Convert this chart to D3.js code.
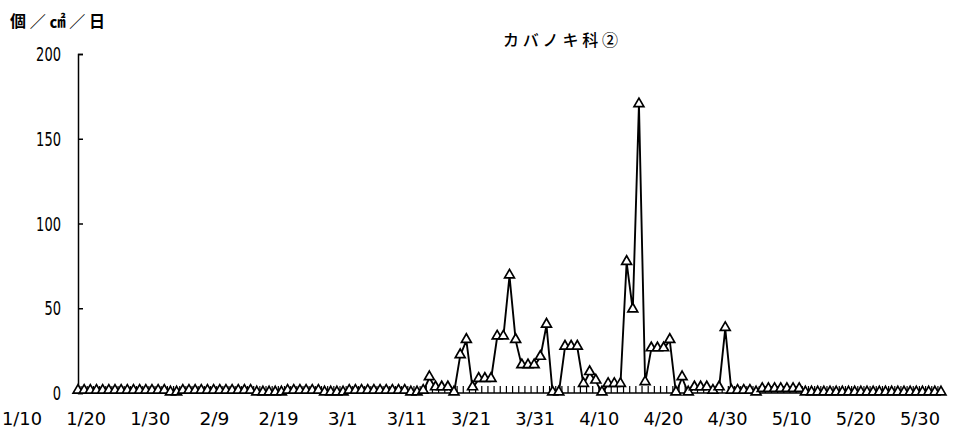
<!DOCTYPE html>
<html>
<head>
<meta charset="utf-8">
<script src="https://cdn.jsdelivr.net/npm/d3@7"></script>
<style>
  body { margin: 0; background: #fff; }
  text { fill: #000; }
</style>
</head>
<body>
<div id="chart"></div>
<script>
// daily pollen counts, 1/10 .. 5/30
const startDay = new Date(2001, 0, 10);
const endDay = new Date(2001, 4, 31);
const days = d3.timeDay.range(startDay, endDay);

const counts = [
  1, 1, 1, 1, 1, 1, 1, 1, 1, 1, 1, 1, 1, 1, 1, 0, 0, 1, 1, 1,
  1, 1, 1, 1, 1, 1, 1, 1, 1, 0, 0, 0, 0, 0, 1, 1, 1, 1, 1, 1,
  0, 0, 0, 0, 1, 1, 1, 1, 1, 1, 1, 1, 1, 1, 0, 0, 1, 9, 3, 3,
  3, 0, 22, 31, 3, 8, 8, 8, 33, 33, 69, 31, 16, 16, 16, 21, 40, 0, 0, 27,
  27, 27, 5, 12, 7, 0, 5, 5, 5, 77, 49, 170, 6, 26, 26, 26, 31, 0, 9, 0,
  3, 3, 3, 1, 3, 38, 1, 1, 1, 1, 0, 2, 2, 2, 2, 2, 2, 2, 0, 0,
  0, 0, 0, 0, 0, 0, 0, 0, 0, 0, 0, 0, 0, 0, 0, 0, 0, 0, 0, 0,
  0
];

const xLabels = ["1/10", "1/20", "1/30", "2/9", "2/19", "3/1", "3/11", "3/21",
                 "3/31", "4/10", "4/20", "4/30", "5/10", "5/20", "5/30"];
const yTicks = [0, 50, 100, 150, 200];

const title = "カバノキ科②";
const unitLabel = "個／㎠／日";

const width = 957, height = 438;
const numFont = "'DejaVu Sans', sans-serif";
const jpFont = "'Noto Sans CJK JP', sans-serif";

const svg = d3.select("#chart").append("svg")
  .attr("width", width)
  .attr("height", height);

let x = d3.scaleLinear()
  .domain([0, days.length - 1])
  .range([78, 941]);

let y = d3.scaleLinear()
  .domain([0, 200])
  .range([393, 54]);

// label row sits on its own even spacing in the original
let xLab = d3.scalePoint()
  .domain(xLabels)
  .range([22, 920]);

// y axis, ticks pointing inward
let axeY = d3.axisRight(y).tickValues(yTicks).tickSize(5).tickFormat("");
svg.append("g")
  .attr("transform", "translate(78,0)")
  .call(axeY)
  .call(g => g.select(".domain").attr("stroke-width", 1.5))
  .call(g => g.selectAll(".tick line").attr("stroke-width", 1.5));

svg.append("g")
  .selectAll("text")
  .data(yTicks)
  .enter()
  .append("text")
    .attr("x", 61)
    .attr("y", d => y(d) + 7)
    .attr("text-anchor", "end")
    .attr("textLength", d => String(d).length * 8.3)
    .attr("lengthAdjust", "spacingAndGlyphs")
    .style("font-family", numFont)
    .style("font-size", "19px")
    .text(d => d);

// x axis line with small upward ticks between days
svg.append("line")
  .attr("x1", x(0)).attr("x2", x(days.length - 1))
  .attr("y1", y(0)).attr("y2", y(0))
  .attr("stroke", "#000")
  .attr("stroke-width", 1.3);

svg.append("g")
  .selectAll("line")
  .data(days.slice(1))
  .enter()
  .append("line")
    .attr("x1", (d, i) => x(i + 0.5))
    .attr("x2", (d, i) => x(i + 0.5))
    .attr("y1", y(0))
    .attr("y2", y(0) - 7)
    .attr("stroke", "#000")
    .attr("stroke-width", 1.2);

svg.append("g")
  .selectAll("text")
  .data(xLabels)
  .enter()
  .append("text")
    .attr("x", d => xLab(d))
    .attr("y", 425)
    .attr("text-anchor", "middle")
    .attr("textLength", d => d.length * 10)
    .attr("lengthAdjust", "spacingAndGlyphs")
    .style("font-family", numFont)
    .style("font-size", "18px")
    .text(d => d);

// series
let line = d3.line()
  .x((d, i) => x(i))
  .y(d => y(d));

svg.append("path")
  .datum(counts)
  .attr("fill", "none")
  .attr("stroke", "#000")
  .attr("stroke-width", 1.9)
  .attr("d", line);

let tri = d3.symbol().type(d3.symbolTriangle).size(42);

svg.append("g")
  .selectAll("path")
  .data(counts)
  .enter()
  .append("path")
    .attr("d", tri)
    .attr("transform", (d, i) => `translate(${x(i)},${y(d) - 1})`)
    .attr("fill", "#fff")
    .attr("stroke", "#000")
    .attr("stroke-width", 1.7);

// titles
svg.append("text")
  .attr("x", 503)
  .attr("y", 46)
  .attr("textLength", 115)
  .attr("lengthAdjust", "spacing")
  .style("font-family", jpFont)
  .style("font-size", "16px")
  .style("font-weight", "500")
  .text(title);

svg.append("text")
  .attr("x", 10)
  .attr("y", 27)
  .attr("textLength", 95)
  .attr("lengthAdjust", "spacing")
  .style("font-family", jpFont)
  .style("font-size", "16px")
  .style("font-weight", "bold")
  .text(unitLabel);
</script>
</body>
</html>
